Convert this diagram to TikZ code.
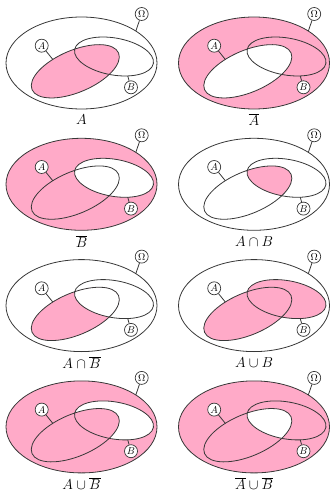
\documentclass[tikz,border=0pt]{standalone}
\definecolor{vpink}{RGB}{255,170,200}
\definecolor{vline}{RGB}{55,55,55}
\tikzset{
  pinkfill/.style={fill=vpink},
  outline/.style={draw=vline, line width=0.8pt},
  tag/.style={circle, draw=vline, line width=0.7pt, fill=white, minimum size=13pt, inner sep=0pt, font=\normalsize},
  captext/.style={inner sep=0pt, font=\Large},
}
\def\pO{(0,0) ellipse [x radius=75.5, y radius=46]}
\def\pA{(-6.2,-8.3) ellipse [x radius=47, y radius=21, rotate=23]}
\def\pB{(32.5,6.5) ellipse [x radius=40, y radius=18.5, rotate=-10]}
\newcommand\panel[5]{%
  \begin{scope}[shift={(#2,-#3)}]
    #4
    \draw[outline] \pO;
    \draw[outline] \pA;
    \draw[outline] \pB;
    \coordinate (#1pO) at (44:75.5 and 46);
    \begin{scope}[shift={(-6.2,-8.3)},rotate=23]
      \coordinate (#1pA) at (110:47 and 21);
    \end{scope}
    \begin{scope}[shift={(32.5,6.5)},rotate=-10]
      \coordinate (#1pB) at (-65:40 and 18.5);
    \end{scope}
    \node[tag] (#1lO) at (60.2,49) {$\Omega$};
    \node[tag] (#1lA) at (-39.8,17.3) {$A$};
    \node[tag] (#1lB) at (49.5,-24.3) {$B$};
    \draw[outline] (#1lO) -- (#1pO);
    \draw[outline] (#1lA) -- (#1pA);
    \draw[outline] (#1lB) -- (#1pB);
    \node[captext] (#1cap) at (0,-57) {#5};
  \end{scope}}
\begin{document}
\begin{tikzpicture}[x=1pt,y=1pt]
\useasboundingbox (0,0) rectangle (332,-494);
\panel{p1}{81.5}{63}{\fill[pinkfill] \pA;}{$A$}
\panel{p2}{254}{63}{\fill[pinkfill,even odd rule] \pO \pA;}{$\overline{A}$}
\panel{p3}{81.5}{184.3}{\fill[pinkfill,even odd rule] \pO \pB;}{$\overline{B}$}
\panel{p4}{254}{184.3}{\begin{scope}\clip \pA; \fill[pinkfill] \pB;\end{scope}}{$A\cap B$}
\panel{p5}{81.5}{305.6}{\begin{scope}\clip \pA; \fill[pinkfill,even odd rule] \pA \pB;\end{scope}}{$A\cap\overline{B}$}
\panel{p6}{254}{305.6}{\fill[pinkfill] \pA; \fill[pinkfill] \pB;}{$A\cup B$}
\panel{p7}{81.5}{426.9}{\fill[pinkfill,even odd rule] \pO \pB; \fill[pinkfill] \pA;}{$A\cup\overline{B}$}
\panel{p8}{254}{426.9}{\fill[pinkfill] \pO; \begin{scope}\clip \pA; \fill[white] \pB;\end{scope}}{$\overline{A}\cup\overline{B}$}
\end{tikzpicture}
\end{document}
